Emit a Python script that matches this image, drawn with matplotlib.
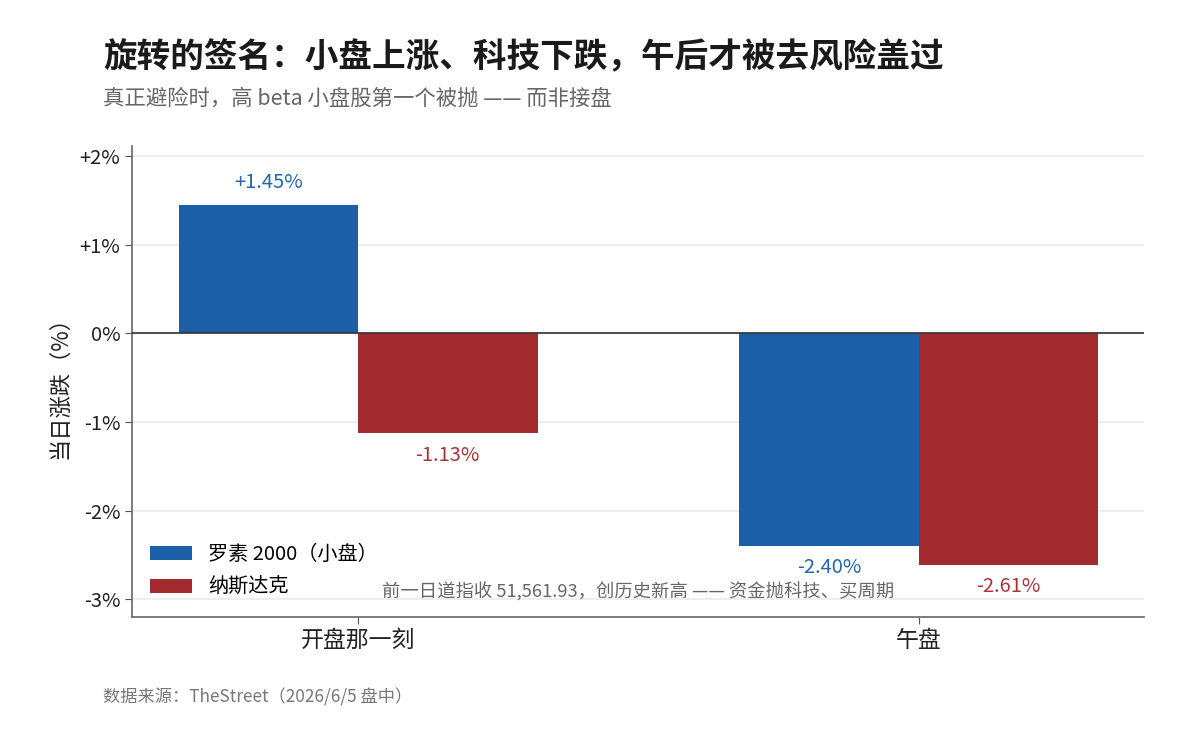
import matplotlib
matplotlib.use("Agg")
import matplotlib.pyplot as plt
import numpy as np

plt.rcParams['font.family'] = ['Noto Sans CJK SC', 'DejaVu Sans']

categories = ["开盘那一刻", "午盘"]
series_names = ["罗素 2000（小盘）", "纳斯达克"]
russell = [1.45, -2.40]
nasdaq = [-1.13, -2.61]
yticks = [2, 1, 0, -1, -2, -3]
ytick_labels = ["+2%", "+1%", "0%", "-1%", "-2%", "-3%"]

blue = "#1b5fa6"
red = "#a32b2f"
blue_txt = "#2467b0"
red_txt = "#a8353a"

fig = plt.figure(figsize=(12.04, 7.34), dpi=100)
ax = fig.add_axes([0.1096, 0.1594, 0.8405, 0.6416])

x = np.arange(len(categories))
w = 0.32
b1 = ax.bar(x - w / 2, russell, w, color=blue, label=series_names[0], zorder=3)
b2 = ax.bar(x + w / 2, nasdaq, w, color=red, label=series_names[1], zorder=3)

for bars, vals, col in [(b1, russell, blue_txt), (b2, nasdaq, red_txt)]:
    for rect, v in zip(bars, vals):
        cx = rect.get_x() + rect.get_width() / 2
        if v >= 0:
            ax.annotate(f"+{v:.2f}%", (cx, v), xytext=(0, 8), textcoords="offset points",
                        ha="center", va="bottom", color=col, fontsize=14.5, fontweight="medium")
        else:
            ax.annotate(f"{v:.2f}%", (cx, v), xytext=(0, -8), textcoords="offset points",
                        ha="center", va="top", color=col, fontsize=14.5, fontweight="medium")

ax.set_xlim(-0.403, 1.401)
ax.set_ylim(-3.2, 2.11)
ax.set_yticks(yticks)
ax.set_yticklabels(ytick_labels, fontsize=14.5, color="#222222")
ax.set_xticks(x)
ax.set_xticklabels(categories, fontsize=16.5, fontweight="medium", color="#111111")
ax.tick_params(axis="both", colors="#555555", labelcolor="#222222", length=5)
ax.set_ylabel("当日涨跌（%）", fontsize=16, color="#222222", labelpad=6, fontweight="medium")

ax.grid(axis="y", color="#ebebeb", linewidth=1.2, zorder=0)
ax.axhline(0, color="#333333", linewidth=1.2, zorder=4)
for s in ["top", "right"]:
    ax.spines[s].set_visible(False)
for s in ["left", "bottom"]:
    ax.spines[s].set_color("#666666")
    ax.spines[s].set_linewidth(1.2)

leg = ax.legend(loc="lower left", bbox_to_anchor=(0.0, 0.002), frameon=False, fontsize=14.5,
                handlelength=2.1, handleheight=0.7, labelspacing=0.58, handletextpad=0.8)

ax.text(0.5, -2.915, "前一日道指收 51,561.93，创历史新高 —— 资金抛科技、买周期",
        ha="center", va="center", fontsize=13.2, color="#666666", zorder=5)

fig.text(0.0855, 0.922, "旋转的签名：小盘上涨、科技下跌，午后才被去风险盖过",
         fontsize=24.2, fontweight="bold", color="#1a1a1a", ha="left", va="center")
fig.text(0.0855, 0.866, "真正避险时，高 beta 小盘股第一个被抛 —— 而非接盘",
         fontsize=15.4, color="#666666", ha="left", va="center")
fig.text(0.0855, 0.05, "数据来源：TheStreet（2026/6/5 盘中）",
         fontsize=12.4, color="#777777", ha="left", va="center")

fig.savefig("out.png", dpi=100, facecolor="white")
